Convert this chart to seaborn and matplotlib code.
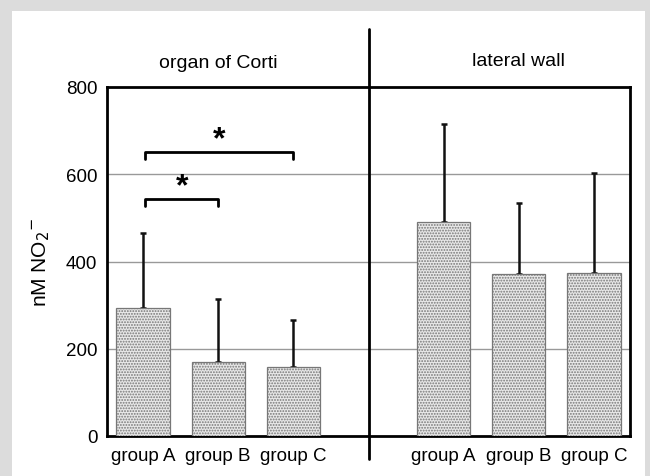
import numpy as np
import pandas as pd
import matplotlib
matplotlib.use("Agg")
import matplotlib.pyplot as plt
import seaborn as sns
from matplotlib.patches import Rectangle

sns.set_style("white")
plt.rcParams['font.family'] = ['Liberation Sans', 'DejaVu Sans']
plt.rcParams['text.color'] = 'black'
plt.rcParams['axes.labelcolor'] = 'black'
plt.rcParams['xtick.color'] = 'black'
plt.rcParams['ytick.color'] = 'black'
plt.rcParams['hatch.color'] = '#777777'
plt.rcParams['hatch.linewidth'] = 0.9

# Data
regions = ["organ of Corti", "lateral wall"]
groups = ["group A", "group B", "group C"]
corti_means = [293, 170, 158]
corti_upper = [465, 315, 265]
wall_means = [490, 372, 373]
wall_upper = [715, 533, 602]
yticks = [0, 200, 400, 600, 800]

positions = [0, 1, 2, 4, 5, 6]
means = corti_means + wall_means
uppers = corti_upper + wall_upper
df = pd.DataFrame({"pos": positions, "value": means,
                   "label": groups + groups})

fig = plt.figure(figsize=(6.5, 4.77), dpi=100)
fig.patch.set_facecolor('#dcdcdc')
bg = Rectangle((12/650, 0), (645-12)/650, 1 - 12/477,
               transform=fig.transFigure, facecolor='white',
               edgecolor='none', zorder=-10)
fig.add_artist(bg)
ax = fig.add_axes([107/650, 1 - 437/477, (630-107)/650, (437-88)/477])
ax.set_zorder(1)
ax.set_facecolor('white')

sns.barplot(data=df, x="pos", y="value", native_scale=True, width=0.71,
            color='#e6e6e6', edgecolor='#777777', linewidth=0.9,
            errorbar=None, ax=ax, zorder=3)
for p in ax.patches:
    p.set_hatch('......')
    p.set_facecolor('#e8e8e8')
    p.set_edgecolor('#777777')

err = np.array(uppers) - np.array(means)
ax.errorbar(positions, means, yerr=[np.zeros(len(err)), err], fmt='none',
            ecolor='#111111', elinewidth=1.8, capsize=2, capthick=1.8, zorder=2)

ax.set_xlim(-0.48, 6.48)
ax.set_ylim(0, 800)
ax.set_yticks(yticks)
ax.set_yticklabels([str(t) for t in yticks], fontsize=13.5)
ax.set_xticks(positions)
ax.set_xticklabels(groups + groups, fontsize=13.5)
ax.tick_params(axis='both', length=0)
ax.tick_params(axis='x', pad=8)
ax.tick_params(axis='y', pad=7)
for t in yticks[1:-1]:
    ax.axhline(t, color='#999999', lw=1.0, zorder=1)
for s in ax.spines.values():
    s.set_color('black')
    s.set_linewidth(2)
ax.set_xlabel("")
ax.set_ylabel("nM NO$_2$$^{-}$", fontsize=15, labelpad=10)

# divider
ax.plot([3, 3], [-53, 933], color='black', lw=2, clip_on=False, zorder=5)

# region titles
ax.text(1, 857, regions[0], ha='center', va='center', fontsize=14)
ax.text(5, 860, regions[1], ha='center', va='center', fontsize=14)

# significance brackets
def bracket(x0, x1, y, drop, star_y):
    ax.plot([x0, x0, x1, x1], [y - drop, y, y, y - drop], color='black',
            lw=2, zorder=5)
    ax.text((x0 + x1) / 2, star_y, "*", ha='center', va='center',
            fontsize=23, fontweight='bold')

bracket(0.03, 1.0, 543, 16, 572)
bracket(0.03, 2.0, 651, 16, 680)

fig.savefig("out.png", dpi=100, facecolor=fig.get_facecolor())
